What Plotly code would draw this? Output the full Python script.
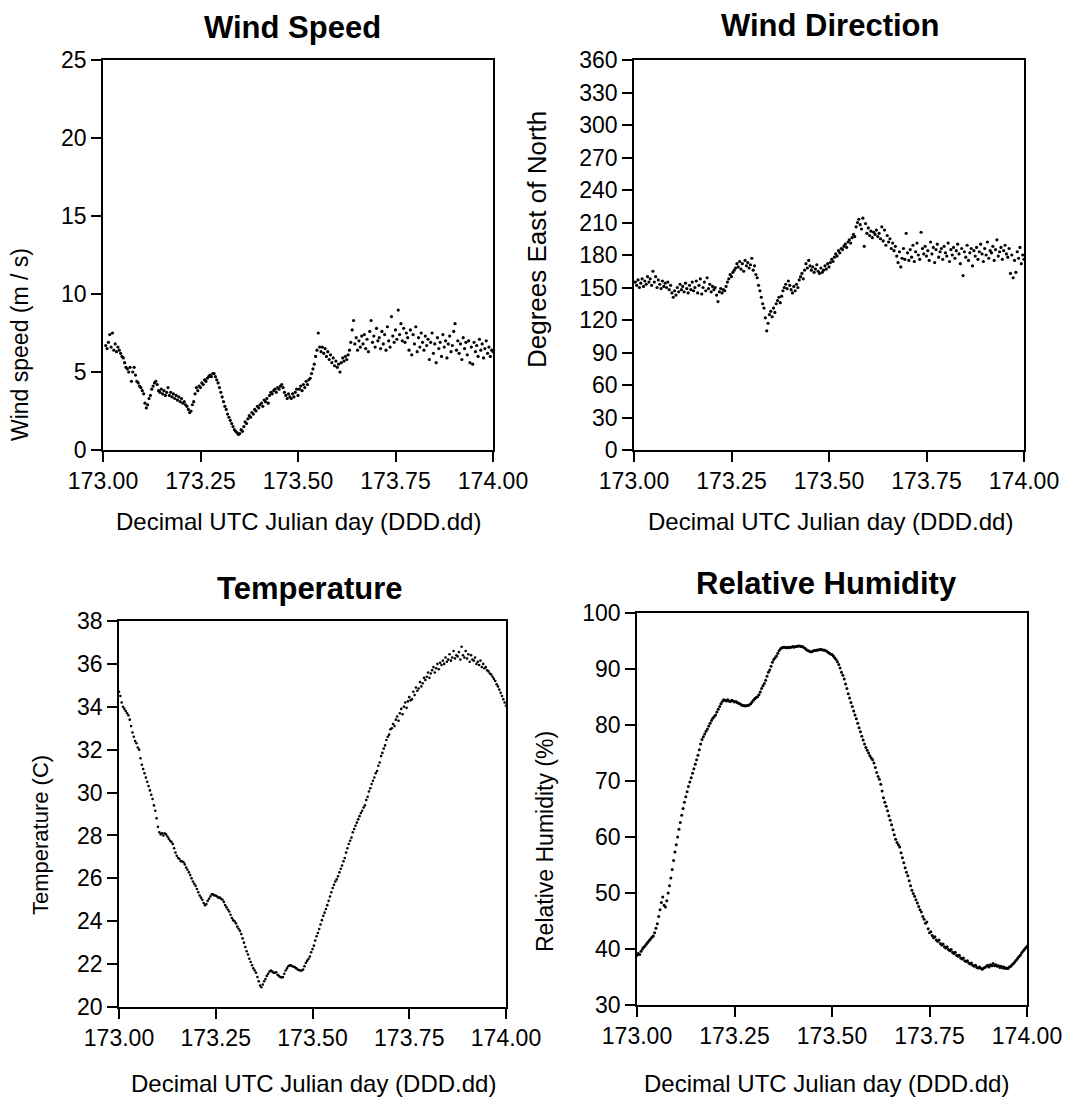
import plotly.graph_objects as go

# ---------------- data ----------------
# sampling times, minutes after 00:00 UTC of Julian day 173
minute_of_day = [
    0, 5, 10, 15, 20, 25, 30, 35, 40, 45, 50, 55,
    60, 65, 70, 75, 80, 85, 90, 95, 100, 105, 110, 115,
    120, 125, 130, 135, 140, 145, 150, 155, 160, 165, 170, 175,
    180, 185, 190, 195, 200, 205, 210, 215, 220, 225, 230, 235,
    240, 245, 250, 255, 260, 265, 270, 275, 280, 285, 290, 295,
    300, 305, 310, 315, 320, 325, 330, 335, 340, 345, 350, 355,
    360, 365, 370, 375, 380, 385, 390, 395, 400, 405, 410, 415,
    420, 425, 430, 435, 440, 445, 450, 455, 460, 465, 470, 475,
    480, 485, 490, 495, 500, 505, 510, 515, 520, 525, 530, 535,
    540, 545, 550, 555, 560, 565, 570, 575, 580, 585, 590, 595,
    600, 605, 610, 615, 620, 625, 630, 635, 640, 645, 650, 655,
    660, 665, 670, 675, 680, 685, 690, 695, 700, 705, 710, 715,
    720, 725, 730, 735, 740, 745, 750, 755, 760, 765, 770, 775,
    780, 785, 790, 795, 800, 805, 810, 815, 820, 825, 830, 835,
    840, 845, 850, 855, 860, 865, 870, 875, 880, 885, 890, 895,
    900, 905, 910, 915, 920, 925, 930, 935, 940, 945, 950, 955,
    960, 965, 970, 975, 980, 985, 990, 995, 1000, 1005, 1010, 1015,
    1020, 1025, 1030, 1035, 1040, 1045, 1050, 1055, 1060, 1065, 1070, 1075,
    1080, 1085, 1090, 1095, 1100, 1105, 1110, 1115, 1120, 1125, 1130, 1135,
    1140, 1145, 1150, 1155, 1160, 1165, 1170, 1175, 1180, 1185, 1190, 1195,
    1200, 1205, 1210, 1215, 1220, 1225, 1230, 1235, 1240, 1245, 1250, 1255,
    1260, 1265, 1270, 1275, 1280, 1285, 1290, 1295, 1300, 1305, 1310, 1315,
    1320, 1325, 1330, 1335, 1340, 1345, 1350, 1355, 1360, 1365, 1370, 1375,
    1380, 1385, 1390, 1395, 1400, 1405, 1410, 1415, 1420, 1425, 1430, 1435,
    1440,
]

wind_speed = [
    None, None, 6.7, 6.5, 6.9, 7.4, 6.6, 7.5, 6.4, 6.8, 6.3, 6.6,
    6.4, 6.2, 6.0, 5.9, 5.6, 5.3, 5.2, 5.0, 5.3, 4.4, 5.0, 5.3,
    4.8, 4.4, 4.3, 4.1, 4.0, 3.8, 3.6, 3.0, 2.7, 2.9, 3.3, 3.5,
    3.9, 4.1, 4.3, 4.4, 4.2, 3.8, 3.7, 3.9, 3.6, 3.8, 3.5, 3.7,
    4.0, 3.5, 3.7, 3.4, 3.6, 3.3, 3.5, 3.2, 3.4, 3.1, 3.3, 3.0,
    3.1, 2.9, 2.8, 2.6, 2.4, 2.5, 2.9, 3.1, 3.6, 4.0, 3.8, 4.1,
    4.0, 4.3, 4.2, 4.5, 4.4, 4.6, 4.7, 4.8, 4.7, 4.9, 4.9, 4.7,
    4.5, 4.3, 4.0, 3.7, 3.4, 3.1, 2.8, 2.6, 2.3, 2.1, 1.9, 1.7,
    1.5, 1.3, 1.2, 1.1, 1.0, 1.05, 1.3, 1.2, 1.5, 1.8, 1.7, 2.0,
    2.2, 2.1, 2.4, 2.3, 2.6, 2.5, 2.8, 2.7, 2.9, 3.0, 2.8, 3.2,
    3.1, 3.3, 3.0, 3.5, 3.7, 3.6, 3.8, 3.9, 3.7, 4.0, 3.9, 4.1,
    4.2, 4.0, 3.7, 3.5, 3.3, 3.6, 3.4, 3.3, 3.6, 3.4, 3.7, 3.9,
    3.5, 3.9, 4.1, 3.8, 4.2, 4.0, 4.4, 4.2, 4.5, 4.6, 4.9, 5.2,
    5.5, 6.0, 6.4, 7.5, 6.6, 6.3, 6.6, 6.2, 6.5, 6.0, 6.3, 5.8,
    6.1, 5.6, 5.9, 5.4, 5.7, 5.3, 5.5, 5.0, 5.6, 5.9, 5.7, 6.0,
    5.8, 6.1, 6.4, 6.9, 7.7, 8.3, 6.8, 7.2, 6.4, 7.0, 6.6, 7.3,
    6.8, 7.4, 6.5, 7.1, 6.3, 7.6, 8.3, 6.9, 7.3, 6.6, 7.8, 7.0,
    7.2, 6.5, 7.6, 6.8, 7.4, 6.4, 7.9, 7.0, 6.6, 8.55, 7.3, 6.9,
    7.7, 7.1, 8.97, 7.4, 8.1, 7.0, 7.8, 6.9, 7.5, 7.2, 6.4, 7.7,
    6.1, 7.4, 6.8, 7.9, 6.3, 7.2, 6.6, 7.5, 6.9, 6.4, 7.3, 6.7,
    7.1, 5.8, 6.9, 7.5, 6.2, 6.8, 5.6, 7.2, 6.5, 6.9, 6.0, 7.4,
    6.6, 7.0, 5.9, 6.8, 7.3, 6.3, 6.7, 7.6, 8.1, 6.4, 7.0, 6.2,
    6.8, 5.8, 7.2, 6.5, 6.9, 6.1, 7.0, 5.6, 6.6, 5.5, 6.9, 6.3,
    6.7, 6.0, 7.1, 6.4, 6.8, 5.9, 6.5, 7.0, 6.2, 6.6, 6.0, 6.4,
    6.3,
]

wind_direction = [
    None, 155, 152, 157, 150, 154, 158, 151, 156, 153, 160, 155,
    158, 152, 165, 155, 160, 150, 157, 153, 149, 156, 151, 154,
    150, 155, 148, 152, 145, 141, 147, 143, 150, 146, 153, 148,
    151, 146, 154, 149, 145, 152, 148, 155, 147, 150, 156, 145,
    152, 158, 144, 150, 155, 147, 159, 149, 153, 146, 151, 148,
    150, 143, 137, 146, 149, 145, 148, 147, 151, 155, 158, 162,
    160, 164, 166, 168, 172, 169, 174, 167, 172, 165, 175, 170,
    173, 168, 171, 177, 166, 170, 162, 159, 152, 147, 141, 135,
    131, 122, 110, 117, 125, 128, 123, 131, 127, 135, 138, 141,
    136, 142, 147, 150, 153, 149, 156, 152, 148, 145, 151, 147,
    153, 150, 157, 160, 163, 158, 166, 172, 168, 175, 170, 166,
    169, 164, 167, 171, 165, 163, 168, 164, 166, 170, 167, 172,
    169, 173, 176, 174, 178, 181, 179, 184, 182, 186, 185, 188,
    190, 187, 192, 194, 191, 196, 199, 197, 206, 210, 213, 208,
    204, 214, 188, 209, 200, 205, 198, 202, 196, 201, 199, 203,
    197, 200, 195, 206, 193, 203, 189, 198, 192, 195, 186, 191,
    184, 188, 179, 173, 183, 169, 177, 186, 176, 200, 182, 175,
    185, 178, 189, 174, 183, 191, 180, 176, 201, 186, 181, 188,
    179, 184, 175, 192, 181, 187, 173, 185, 190, 178, 183, 186,
    176, 188, 182, 179, 191, 174, 185, 180, 187, 177, 184, 190,
    181, 172, 186, 161, 183, 178, 189, 175, 182, 186, 170, 184,
    179, 187, 176, 183, 190, 181, 174, 186, 180, 192, 177, 184,
    182, 188, 175, 185, 194, 179, 183, 187, 176, 184, 189, 181,
    178, 186, 163, 180, 159, 175, 164, 183, 177, 187, 172, 180,
    176,
]

temperature = [
    34.7, 34.5, 34.2, 34.0, 33.9, 33.8, 33.7, 33.6, 33.4, 33.1, 32.8, 32.6,
    32.4, 32.3, 32.1, 32.0, 31.6, 31.3, 31.1, 30.9, 30.7, 30.5, 30.3, 30.1,
    29.9, 29.7, 29.4, 29.15, 28.8, 28.4, 28.15, 28.05, 28.1, 28.0, 28.1, 28.05,
    27.95, 27.85, 27.75, 27.7, 27.6, 27.4, 27.2, 27.05, 26.95, 26.9, 26.8, 26.8,
    26.75, 26.65, 26.5, 26.4, 26.28, 26.15, 26.0, 25.85, 25.75, 25.65, 25.5, 25.35,
    25.2, 25.1, 25.0, 24.85, 24.75, 24.8, 24.95, 25.05, 25.15, 25.25, 25.25, 25.2,
    25.2, 25.15, 25.1, 25.1, 25.05, 25.0, 24.9, 24.75, 24.65, 24.55, 24.45, 24.3,
    24.15, 24.05, 24.0, 23.9, 23.75, 23.65, 23.55, 23.4, 23.2, 23.0, 22.8, 22.6,
    22.45, 22.25, 22.1, 21.95, 21.8, 21.7, 21.6, 21.4, 21.2, 21.0, 20.92, 21.05,
    21.2, 21.3, 21.45, 21.55, 21.65, 21.7, 21.65, 21.6, 21.6, 21.62, 21.5, 21.45,
    21.4, 21.38, 21.4, 21.55, 21.7, 21.8, 21.9, 21.95, 21.93, 21.9, 21.88, 21.85,
    21.8, 21.75, 21.72, 21.7, 21.7, 21.75, 21.9, 22.05, 22.15, 22.24, 22.35, 22.55,
    22.7, 22.86, 23.1, 23.3, 23.45, 23.64, 23.85, 24.05, 24.25, 24.4, 24.57, 24.75,
    24.95, 25.15, 25.35, 25.55, 25.7, 25.85, 25.95, 26.1, 26.28, 26.45, 26.6, 26.8,
    26.95, 27.2, 27.4, 27.6, 27.75, 27.9, 28.15, 28.3, 28.45, 28.6, 28.75, 28.9,
    29.05, 29.15, 29.3, 29.4, 29.65, 29.8, 30.05, 30.2, 30.4, 30.55, 30.7, 30.9,
    31.0, 31.25, 31.4, 31.7, 31.85, 32.05, 32.2, 32.45, 32.6, 32.7, 32.95, 33.0,
    33.2, 33.1, 33.4, 33.55, 33.35, 33.7, 33.9, 33.65, 34.0, 34.2, 33.95, 34.25,
    34.45, 34.3, 34.35, 34.7, 34.55, 34.9, 34.75, 34.85, 35.15, 34.95, 35.1, 35.35,
    35.25, 35.4, 35.6, 35.35, 35.55, 35.7, 35.85, 35.6, 35.8, 36.0, 35.75, 36.05,
    35.95, 36.15, 36.0, 36.3, 36.1, 36.2, 36.45, 36.15, 36.3, 36.6, 36.25, 36.4,
    36.35, 36.55, 36.2, 36.8, 36.4, 36.3, 36.6, 36.25, 36.45, 36.1, 36.4, 36.2,
    36.15, 36.3, 36.0, 36.1, 35.95, 36.15, 35.85, 36.0, 35.8, 35.85, 35.7, 35.65,
    35.55, 35.5, 35.4, 35.3, 35.2, 35.05, 34.95, 34.8, 34.65, 34.5, 34.35, 34.2,
    34.05,
]

relative_humidity = [
    38.9, 39.2, 39.0, 39.6, 40.0, 40.3, 40.6, 40.9, 41.2, 41.5, 41.8, 42.1,
    42.3, 42.9, 43.7, 44.5, 45.8, 47.0, 48.3, 49.3, 47.8, 47.5, 48.6, 50.0,
    51.3, 52.7, 54.2, 55.8, 57.3, 58.6, 60.0, 61.4, 62.6, 63.9, 65.1, 66.2,
    67.2, 68.1, 69.0, 69.8, 70.6, 71.4, 72.2, 73.0, 73.8, 74.6, 75.6, 76.6,
    77.4, 77.9, 78.4, 78.9, 79.3, 79.8, 80.3, 80.8, 81.2, 81.5, 81.8, 82.3,
    82.8, 83.3, 83.8, 84.2, 84.5, 84.4, 84.3, 84.5, 84.3, 84.2, 84.4, 84.3,
    84.1, 84.2, 84.0, 83.9, 83.8, 83.6, 83.5, 83.5, 83.4, 83.5, 83.5, 83.6,
    83.8, 84.1, 84.4, 84.7, 84.9, 85.05, 85.4, 85.9, 86.5, 87.0, 87.4, 88.0,
    88.7, 89.4, 89.8, 90.5, 91.2, 91.7, 92.0, 92.3, 92.8, 93.3, 93.6, 93.8,
    93.9, 93.9, 93.8, 93.9, 93.8, 93.9, 93.9, 94.0, 93.9, 94.0, 94.0, 94.1,
    94.1, 94.0, 94.0, 93.9, 93.7, 93.5, 93.3, 93.2, 93.1, 93.1, 93.2, 93.3,
    93.3, 93.4, 93.4, 93.5, 93.5, 93.4, 93.4, 93.3, 93.2, 93.0, 92.8, 92.7,
    92.6, 92.3, 92.0, 91.7, 91.3, 90.8, 90.2, 89.4, 88.9, 88.2, 87.3, 86.5,
    85.6, 84.8, 84.0, 83.3, 82.5, 81.8, 81.1, 80.3, 79.5, 78.8, 78.0, 77.3,
    76.6, 76.0, 75.5, 75.0, 74.5, 74.1, 73.8, 73.2, 72.4, 71.5, 70.8, 70.3,
    69.4, 68.2, 67.0, 66.2, 65.5, 64.7, 63.8, 63.0, 62.2, 61.3, 60.4, 59.6,
    59.0, 58.6, 58.2, 57.2, 56.3, 55.4, 54.5, 53.7, 53.1, 52.2, 51.3, 50.5,
    49.9, 49.4, 48.8, 48.2, 47.6, 47.0, 46.6, 45.8, 45.3, 44.6, 44.8, 43.6,
    42.9, 43.1, 42.4, 42.0, 42.2, 41.6, 41.4, 41.6, 41.0, 40.7, 40.9, 40.4,
    40.2, 40.4, 39.9, 39.7, 39.9, 39.4, 39.2, 39.4, 38.9, 38.7, 38.9, 38.4,
    38.2, 38.4, 37.9, 37.75, 37.9, 37.5, 37.3, 37.5, 37.1, 36.9, 37.1, 36.7,
    36.6, 36.8, 36.5, 36.4, 36.6, 36.7, 36.9, 37.1, 36.8, 37.2, 37.0, 37.4,
    37.0, 37.2, 36.9, 37.0, 36.7, 36.9, 36.6, 36.8, 36.5, 36.6, 36.5, 36.8,
    36.9, 37.2, 37.4, 37.7, 38.0, 38.3, 38.6, 38.9, 39.3, 39.6, 39.9, 40.2,
    40.5,
]

x_tick_values = [173.0, 173.25, 173.5, 173.75, 174.0]
x_tick_labels = ["173.00", "173.25", "173.50", "173.75", "174.00"]

panel_titles = ["Wind Speed", "Wind Direction", "Temperature", "Relative Humidity"]
y_titles = ["Wind speed (m / s)", "Degrees East of North", "Temperature (C)",
            "Relative Humidity (%)"]
x_title = "Decimal UTC Julian day (DDD.dd)"

# ---------------- figure ----------------
# the page body adds an 8 px margin, so the figure is drawn 8 px smaller
# and every target page position is shifted by that offset
OFF = 8
W, H = 1073 - OFF, 1105 - OFF
FONT = "Liberation Sans, Arial, Helvetica, sans-serif"


def fx(px):
    return (px - OFF) / W


def fy(py):
    return 1 - (py - OFF) / H


day = [173 + m / 1440.0 for m in minute_of_day]

series = [wind_speed, wind_direction, temperature, relative_humidity]
for s in series:
    assert len(s) == len(day), (len(s), len(day))

# plot area boxes in page pixels (left, right, top, bottom)
boxes = [(103, 493, 60, 450), (634, 1024, 60, 450),
         (119, 506, 621, 1007), (637, 1027, 613, 1005)]
y_ranges = [[0, 25], [0, 360], [20, 38], [30, 100]]
y_dticks = [5, 30, 2, 10]
marker_sizes = [3.2, 3.2, 2.6, 3.0]

fig = go.Figure()
for k, (vals, ms) in enumerate(zip(series, marker_sizes)):
    sfx = "" if k == 0 else str(k + 1)
    fig.add_trace(go.Scatter(
        x=day, y=vals, mode="markers",
        marker=dict(size=ms, color="black", line=dict(width=0)),
        xaxis="x" + sfx, yaxis="y" + sfx, showlegend=False,
        hoverinfo="x+y",
    ))

axis_common = dict(
    showline=True, linecolor="black", linewidth=1.5, mirror=True,
    ticks="outside", ticklen=10, tickwidth=1.5, tickcolor="black",
    showgrid=False, zeroline=False, automargin=False,
    tickfont=dict(family=FONT, size=23, color="black"),
)

layout_axes = {}
for k, (l, r, t, b) in enumerate(boxes):
    sfx = "" if k == 0 else str(k + 1)
    layout_axes["xaxis" + sfx] = dict(
        axis_common, domain=[fx(l), fx(r)], anchor="y" + sfx,
        range=[173, 174], tickvals=x_tick_values, ticktext=x_tick_labels,
    )
    layout_axes["yaxis" + sfx] = dict(
        axis_common, domain=[fy(b), fy(t)], anchor="x" + sfx,
        range=y_ranges[k], dtick=y_dticks[k], tick0=y_ranges[k][0],
    )

annotations = []
# panel titles (center x, center y)
title_pos = [(292, 28), (830, 25), (310, 588), (826, 583)]
for txt, (cx, cy) in zip(panel_titles, title_pos):
    annotations.append(dict(
        text="<b>%s</b>" % txt, x=fx(cx), y=fy(cy), xref="paper", yref="paper",
        showarrow=False, xanchor="center", yanchor="middle",
        font=dict(family=FONT, size=31, color="black"),
    ))
# x titles
xt_pos = [(298, 521), (830, 521), (313, 1083), (826, 1083)]
for (cx, cy) in xt_pos:
    annotations.append(dict(
        text=x_title, x=fx(cx), y=fy(cy), xref="paper", yref="paper",
        showarrow=False, xanchor="center", yanchor="middle",
        font=dict(family=FONT, size=24, color="black"),
    ))
# y titles
yt_pos = [(20, 345, 23), (537, 240, 26), (40, 835, 22), (545, 842, 23)]
for txt, (cx, cy, fs) in zip(y_titles, yt_pos):
    annotations.append(dict(
        text=txt, x=fx(cx), y=fy(cy), xref="paper", yref="paper",
        showarrow=False, xanchor="center", yanchor="middle", textangle=-90,
        font=dict(family=FONT, size=fs, color="black"),
    ))

fig.update_layout(
    width=W, height=H,
    margin=dict(l=0, r=0, t=0, b=0),
    paper_bgcolor="white", plot_bgcolor="white",
    font=dict(family=FONT, color="black"),
    showlegend=False,
    annotations=annotations,
    **layout_axes,
)

fig.write_html("out.html")
